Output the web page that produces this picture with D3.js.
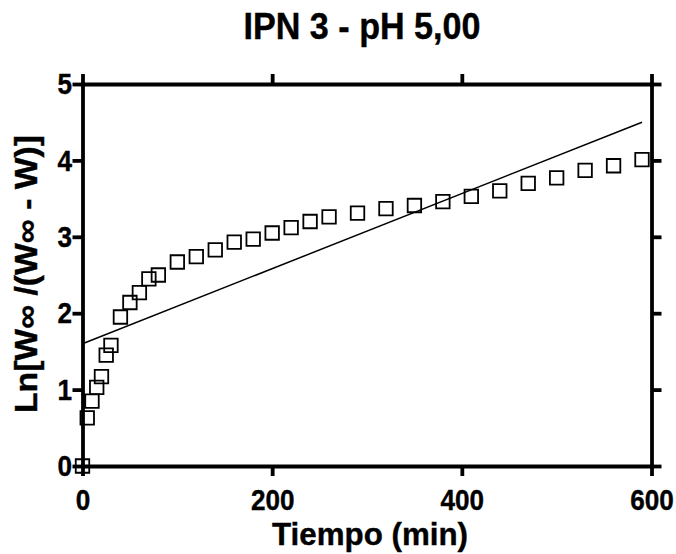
<!DOCTYPE html>
<html>
<head>
<meta charset="utf-8">
<script src="https://cdn.jsdelivr.net/npm/d3@7/dist/d3.min.js"></script>
<style>
  html, body { margin: 0; padding: 0; background: #fff; }
  svg { display: block; }
  text { font-family: "Liberation Sans", Arial, Helvetica, sans-serif; font-weight: bold; fill: #000; stroke: #000; stroke-width: 0.4px; }
</style>
</head>
<body>
<div id="chart"></div>
<script>
// ---- data ----
const timeMin = [0, 5, 10, 15, 20, 25, 30, 40, 50, 60, 70, 80, 100, 120, 140, 160, 180, 200, 220, 240, 260, 290, 320, 350, 380, 410, 440, 470, 500, 530, 560, 590];
const lnValues = [0, 0.63, 0.85, 1.03, 1.17, 1.45, 1.58, 1.95, 2.14, 2.27, 2.45, 2.50, 2.67, 2.74, 2.83, 2.93, 2.97, 3.05, 3.12, 3.20, 3.26, 3.31, 3.37, 3.41, 3.46, 3.53, 3.60, 3.70, 3.77, 3.87, 3.93, 4.01];
const fitX = [0, 590];
const fitY = [1.60, 4.50];
const xTicks = [0, 200, 400, 600];
const yTicks = [0, 1, 2, 3, 4, 5];
const titleText = "IPN 3 - pH 5,00";
const xTitle = "Tiempo (min)";
const yTitle = "Ln[W\u221E /(W\u221E - W)]";

// ---- chart ----
const W = 676, H = 554;
const svg = d3.select("#chart").append("svg").attr("width", W).attr("height", H);
svg.append("rect").attr("width", W).attr("height", H).attr("fill", "#fff");

const x = d3.scaleLinear().domain([0, 600]).range([82.5, 651.5]);
const y = d3.scaleLinear().domain([0, 5]).range([466, 84]);

function styleAxis(g) {
  g.select(".domain").attr("stroke", "#000").attr("stroke-width", 3.8).attr("stroke-linecap", "square");
  g.selectAll(".tick line").attr("stroke", "#000").attr("stroke-width", 3.8);
  g.selectAll(".tick text")
    .attr("font-size", 30)
    .attr("font-weight", "bold")
    .attr("fill", "#000")
    .attr("transform", "scale(0.87,1)");
}

// top & right (no labels)
svg.append("g").attr("transform", `translate(0,${y(5)})`)
  .call(d3.axisTop(x).tickValues(xTicks).tickSize(10).tickSizeOuter(0).tickFormat(""))
  .call(styleAxis);
svg.append("g").attr("transform", `translate(${x(600)},0)`)
  .call(d3.axisRight(y).tickValues(yTicks).tickSize(10).tickSizeOuter(0).tickFormat(""))
  .call(styleAxis);

// bottom & left
svg.append("g").attr("transform", `translate(0,${y(0)})`)
  .call(d3.axisBottom(x).tickValues(xTicks).tickSize(10).tickSizeOuter(0).tickPadding(13).tickFormat(d3.format("d")))
  .call(styleAxis);
svg.append("g").attr("transform", `translate(${x(0)},0)`)
  .call(d3.axisLeft(y).tickValues(yTicks).tickSize(10).tickSizeOuter(0).tickPadding(2).tickFormat(d3.format("d")))
  .call(styleAxis);

// regression line
const fitData = fitX.map((v, i) => [v, fitY[i]]);
svg.append("path")
  .datum(fitData)
  .attr("fill", "none")
  .attr("stroke", "#000")
  .attr("stroke-width", 1.5)
  .attr("d", d3.line().x(d => x(d[0])).y(d => y(d[1])));

// markers
const sq = d3.symbol().type(d3.symbolSquare).size(13.5 * 13.5);
svg.append("g").selectAll("path")
  .data(timeMin.map((t, i) => [t, lnValues[i]]))
  .join("path")
  .attr("transform", d => `translate(${x(d[0])},${y(d[1])})`)
  .attr("d", sq)
  .attr("fill", "none")
  .attr("stroke", "#000")
  .attr("stroke-width", 1.8);

// titles
svg.append("text")
  .attr("x", 362).attr("y", 38.5)
  .attr("text-anchor", "middle")
  .attr("font-size", 37)
  .attr("textLength", 237).attr("lengthAdjust", "spacingAndGlyphs")
  .text(titleText);

svg.append("text")
  .attr("x", 370).attr("y", 545)
  .attr("text-anchor", "middle")
  .attr("font-size", 31)
  .attr("textLength", 196).attr("lengthAdjust", "spacingAndGlyphs")
  .text(xTitle);

svg.append("text")
  .attr("transform", "translate(37,274) rotate(-90)")
  .attr("text-anchor", "middle")
  .attr("font-size", 31)
  .attr("textLength", 278).attr("lengthAdjust", "spacingAndGlyphs")
  .text(yTitle);
</script>
</body>
</html>
